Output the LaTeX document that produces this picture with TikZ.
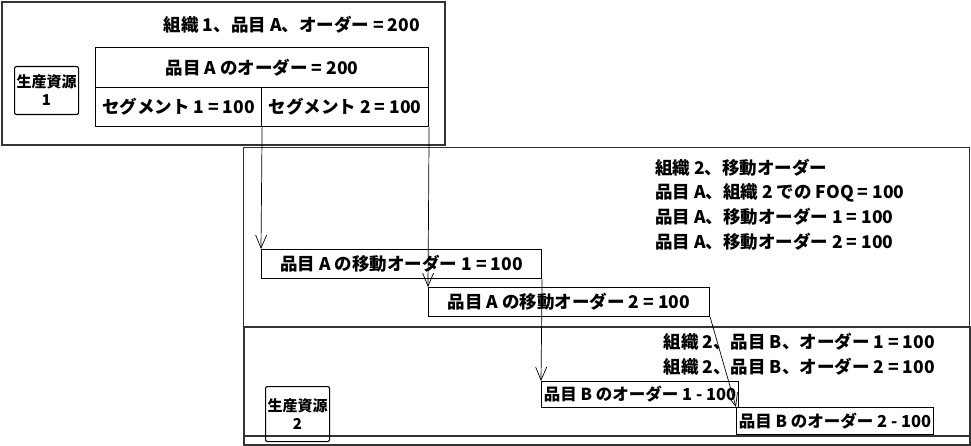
\documentclass[tikz,border=0pt]{standalone}
\usepackage{fontspec}
\setmainfont{Noto Sans CJK JP}
\usetikzlibrary{arrows.meta}

\begin{document}
\begin{tikzpicture}[x=1pt,y=-1pt,
    frame/.style={draw=black!80,anchor=north west,inner sep=0pt},
    orderbox/.style={draw,line width=1.1pt,anchor=north west,inner sep=0pt,font=\bfseries\fontsize{17.5}{20}\selectfont},
    resbox/.style={draw,line width=1.1pt,rounded corners=2pt,anchor=north west,inner sep=0pt,align=center,font=\bfseries\fontsize{15}{18}\selectfont},
    note/.style={inner sep=0pt,font=\bfseries\fontsize{17.5}{20}\selectfont},
    flow/.style={-{Straight Barb[length=13pt,width=11pt]},line width=0.7pt}]
    \useasboundingbox (0,0) rectangle (971,446);

    % organisation frames
    \node[frame,line width=2pt,minimum width=443,minimum height=143] (org1) at (1,1) {};
    \node[frame,line width=1pt,minimum width=726,minimum height=179] (org2a) at (243,147) {};
    \node[frame,line width=1.5pt,minimum width=726,minimum height=109] (org2b) at (243,326) {};
    \node[frame,line width=1.5pt,minimum width=726,minimum height=9] (strip) at (243,435) {};

    % resources
    \node[resbox,minimum width=64,minimum height=48] (res1) at (14,66) {生産資源\\1};
    \node[resbox,minimum width=64,minimum height=55] (res2) at (265,386) {生産資源\\2};

    % organisation 1
    \node[note,anchor=east] (title1) at (420,25) {組織 1、品目 A、オーダー = 200};
    \node[orderbox,minimum width=333,minimum height=40] (order) at (95,47) {品目 A のオーダー = 200};
    \node[orderbox,minimum width=166,minimum height=39] (seg1) at (95,87) {セグメント 1 = 100};
    \node[orderbox,minimum width=167,minimum height=39] (seg2) at (261,87) {セグメント 2 = 100};

    % organisation 2, transfer orders
    \node[note,anchor=west] (t2a) at (655,168) {組織 2、移動オーダー};
    \node[note,anchor=west] (t2b) at (655,193) {品目 A、組織 2 での FOQ = 100};
    \node[note,anchor=west] (t2c) at (655,217) {品目 A、移動オーダー 1 = 100};
    \node[note,anchor=west] (t2d) at (655,242) {品目 A、移動オーダー 2 = 100};
    \node[orderbox,minimum width=280,minimum height=29] (move1) at (261,249) {品目 A の移動オーダー 1 = 100};
    \node[orderbox,minimum width=281,minimum height=29] (move2) at (428,287) {品目 A の移動オーダー 2 = 100};

    % organisation 2, item B orders
    \node[note,anchor=east] (t3a) at (935,342) {組織 2、品目 B、オーダー 1 = 100};
    \node[note,anchor=east] (t3b) at (935,367) {組織 2、品目 B、オーダー 2 = 100};
    \node[orderbox,font=\bfseries\fontsize{16.5}{19}\selectfont,minimum width=197,minimum height=26] (itemB1) at (541,381) {品目 B のオーダー 1 - 100};
    \node[orderbox,font=\bfseries\fontsize{16.5}{19}\selectfont,minimum width=197,minimum height=27] (itemB2) at (736,407) {品目 B のオーダー 2 - 100};

    \draw[flow] (seg1.south east) -- (move1.north west);
    \draw[flow] (seg2.south east) -- (move2.north west);
    \draw[flow] (move1.south east) -- (itemB1.north west);
    \draw[flow] (move2.south east) -- (itemB2.north west);
\end{tikzpicture}
\end{document}
